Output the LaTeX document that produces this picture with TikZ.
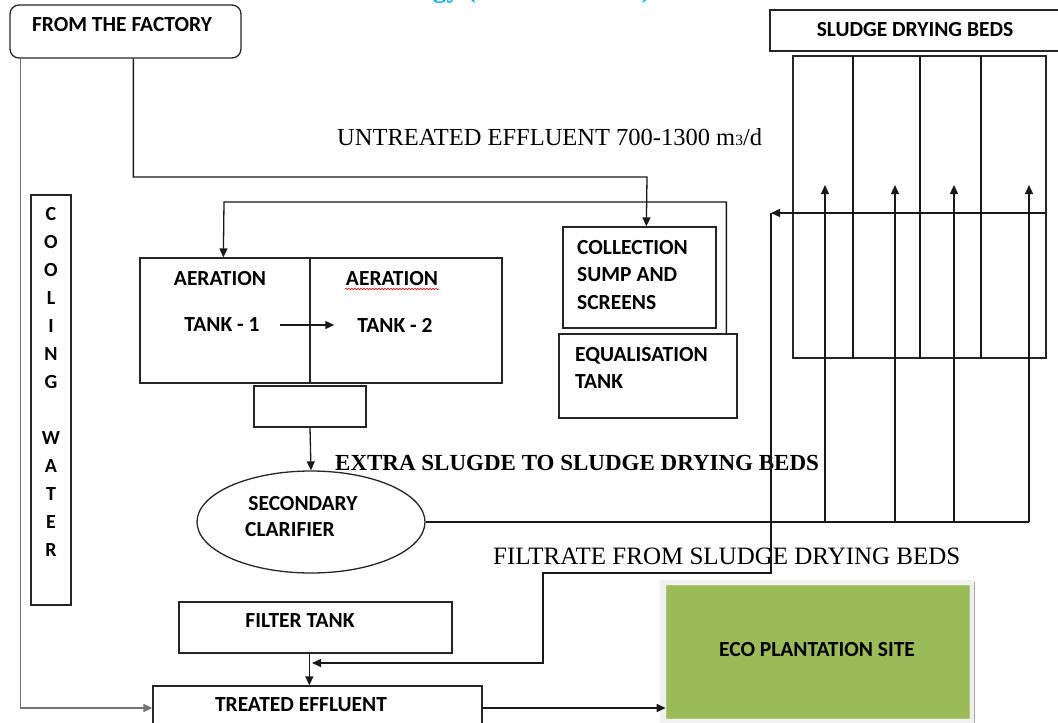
\documentclass[tikz,border=0pt]{standalone}
\usepackage{fontspec}
\setmainfont{Liberation Serif}
\newfontfamily\calfont{Carlito}
\usetikzlibrary{arrows.meta,shapes.geometric,decorations.pathmorphing}
\definecolor{ecogreen}{HTML}{9BBB59}
\definecolor{titlecyan}{HTML}{00B0F0}
\begin{document}
\begin{tikzpicture}[x=1pt,y=-1pt,
  box/.style={draw=black!85, line width=1.3pt, inner sep=0pt, rectangle},
  lbl/.style={font=\calfont\bfseries\fontsize{21.5}{27.5}\selectfont, inner sep=0pt, text=black},
  ser/.style={font=\fontsize{24.5}{28}\selectfont, inner sep=0pt, anchor=west},
  con/.style={draw=black!90, line width=1.3pt},
  arr/.style={con, -{Triangle[length=9pt,width=8pt]}},
]
\useasboundingbox (0,0) rectangle (1058,723);

% partially visible title at the top edge
\node[anchor=base west, inner sep=0pt, text=titlecyan, font=\bfseries\fontsize{27}{30}\selectfont] (title) at (433,-2.5) {gy (\hspace{166pt})};

% boxes
\node[box, rounded corners=9pt, minimum width=231pt, minimum height=53pt] (factory) at (125.5,31.5) {};
\node[box, minimum width=40pt, minimum height=410pt] (cooling) at (51,400) {};
\node[box, minimum width=170pt, minimum height=125pt] (aer1) at (225,320.5) {};
\node[box, minimum width=192pt, minimum height=125pt] (aer2) at (406,320.5) {};
\node[box, minimum width=112pt, minimum height=41pt] (small) at (310,406.5) {};
\node[box, minimum width=153pt, minimum height=101pt] (collection) at (639.5,277.5) {};
\node[box, minimum width=178pt, minimum height=84pt] (equal) at (648,376) {};
\node[box, ellipse, minimum width=228pt, minimum height=102pt] (clar) at (311,522) {};
\node[box, minimum width=273pt, minimum height=51pt] (filter) at (315.5,627.5) {};
\node[box, minimum width=329pt, minimum height=44pt] (treated) at (317.5,708) {};
\node[box, minimum width=292pt, minimum height=41pt] (sdblabel) at (916,30.5) {};
\node[box, minimum width=253pt, minimum height=302pt] (grid) at (919.5,207) {};
\draw[con] (853,56) -- (853,358) (920,56) -- (920,358) (981,56) -- (981,358);
\fill[black!6] (660,580) rectangle (975,724);
\draw[black!35, line width=1pt] (974,582) -- (974,723);
\node[rectangle, fill=ecogreen, draw=ecogreen!80!white, line width=0.8pt, minimum width=303pt, minimum height=133pt, inner sep=0pt] (eco) at (817.5,651.5) {};

% labels
\node[lbl] (tfactory) at (122,25) {FROM THE FACTORY};
\node[lbl, align=center, font=\calfont\bfseries\fontsize{20}{28}\selectfont] (tcool) at (51,382) {C\\O\\O\\L\\I\\N\\G\\[28pt]W\\A\\T\\E\\R};
\node[lbl] (ta1) at (220,279) {AERATION};
\node[lbl] (tt1) at (222,325) {TANK - 1};
\node[lbl] (ta2) at (392,279) {AERATION};
\node[lbl] (tt2) at (395,325) {TANK - 2};
\draw[red!85!black, line width=0.6pt, decorate, decoration={snake, amplitude=0.8pt, segment length=3pt}] (345,289) -- (439,289);
\node[lbl, align=left, anchor=west] (tcol) at (577,275) {COLLECTION\\SUMP AND\\SCREENS};
\node[lbl, align=left, anchor=west] (teq) at (575,368) {EQUALISATION\\TANK};
\node[lbl] (tsec) at (303,504) {SECONDARY};
\node[lbl] (tclar) at (290,530) {CLARIFIER};
\node[lbl] (tfilter) at (300,621) {FILTER TANK};
\node[lbl] (ttreated) at (301,705) {TREATED EFFLUENT};
\node[lbl] (teco) at (817,650) {ECO PLANTATION SITE};
\node[lbl] (tsdb) at (915,30) {SLUDGE DRYING BEDS};

\node[ser] (tuntreated) at (337,137) {UNTREATED EFFLUENT 700-1300 m{\fontsize{15.5}{15}\selectfont 3}/d};
\node[ser, font=\bfseries\fontsize{23}{28}\selectfont] (textra) at (335,463) {EXTRA SLUGDE TO SLUDGE DRYING BEDS};
\node[ser, font=\fontsize{25}{28}\selectfont] (tfiltrate) at (493,556) {FILTRATE FROM SLUDGE DRYING BEDS};

% connectors
\draw[arr, draw=black!55, line width=1.6pt] ([xshift=11pt]factory.south west) |- (treated.west);
\draw[arr] ([xshift=124pt]factory.south west) |- (647,177) -- ([xshift=84pt]collection.north west);
\draw[arr] ([xshift=168pt]equal.north west) |- (224,202) -- ([xshift=84pt]aer1.north west);
\draw[arr] ([xshift=20pt]tt1.east) -- ([xshift=-23pt]tt2.west);
\draw[arr] (small.south) -- (clar.north);
\draw[con] (clar.east) -- (1029,522);
\foreach \x in {825,895,954,1029} \draw[arr] (\x,522) -- (\x,185);
\draw[arr] (grid.east |- 0,213) -- (771,213);
\draw[arr] (771,213) -- (771,573) -- (543,573) -- (543,663) -- (312,663);
\draw[arr] ([xshift=131pt]filter.south west) -- ([xshift=157pt]treated.north west);
\draw[arr] (treated.east) -- (treated.east -| eco.west);
\end{tikzpicture}
\end{document}
